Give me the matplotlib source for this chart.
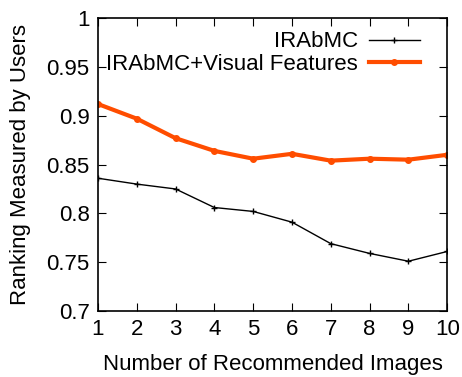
import numpy as np
import matplotlib.pyplot as plt

plt.rcParams['font.family'] = ['Liberation Sans', 'DejaVu Sans']

n_images = [1, 2, 3, 4, 5, 6, 7, 8, 9, 10]
irabmc = [0.836, 0.830, 0.825, 0.806, 0.802, 0.791, 0.769, 0.759, 0.751, 0.761]
irabmc_visual = [0.912, 0.897, 0.877, 0.864, 0.856, 0.861, 0.854, 0.856, 0.855, 0.860]

fig = plt.figure(figsize=(4.62, 3.77), dpi=100)
ax = fig.add_axes([0.212, 0.175, 0.756, 0.777])

ax.plot(n_images, irabmc, color="black", linewidth=1, marker="+", markersize=5,
        label="IRAbMC")
ax.plot(n_images, irabmc_visual, color="#ff4d00", linewidth=3, marker="o", markersize=4,
        label="IRAbMC+Visual Features")

ax.set_xlim(1, 10)
ax.set_ylim(0.7, 1.0)
ax.set_xticks(n_images)
ax.set_yticks([0.7, 0.75, 0.8, 0.85, 0.9, 0.95, 1.0])
ax.set_yticklabels(["0.7", "0.75", "0.8", "0.85", "0.9", "0.95", "1"])
ax.tick_params(direction="in", top=True, right=True, labelsize=16, length=6, pad=6)
for s in ax.spines.values():
    s.set_linewidth(1.2)

ax.set_xlabel("Number of Recommended Images", fontsize=16, labelpad=10)
ax.set_ylabel("Ranking Measured by Users", fontsize=16, labelpad=11)

ax.legend(loc="upper right", frameon=False, markerfirst=False, fontsize=16,
          handlelength=2.3, borderaxespad=0.2, labelspacing=0.05, handletextpad=0.5,
          bbox_to_anchor=(0.96, 1.0))

fig.savefig("out.png")
